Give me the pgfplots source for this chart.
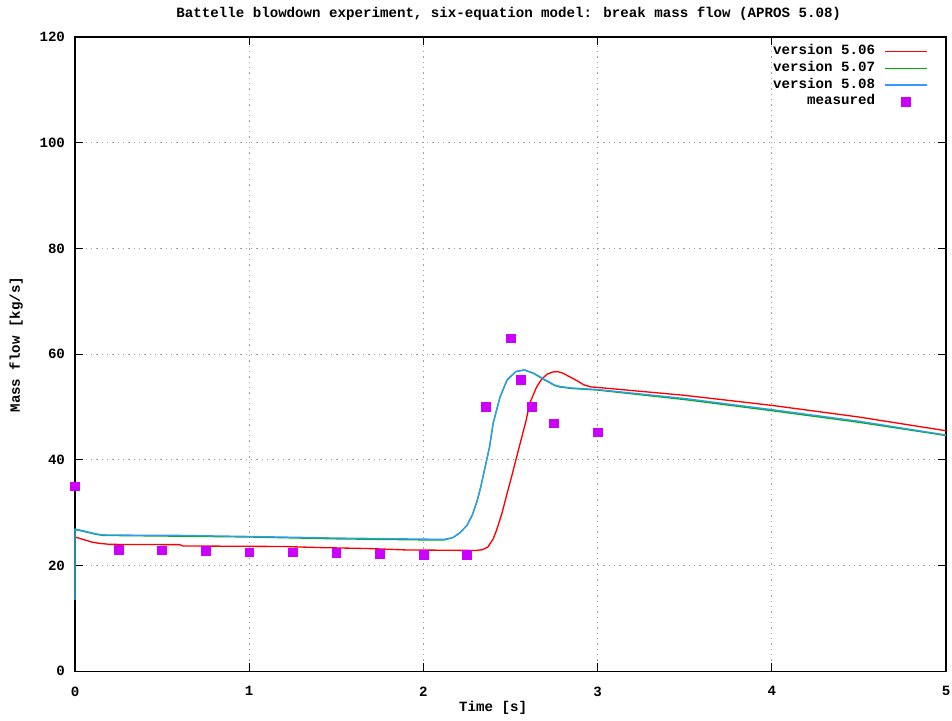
\documentclass[border=0pt]{standalone}
\usepackage{fontspec}
\setmainfont{Liberation Mono}
\usepackage{pgfplots}
\pgfplotsset{compat=1.18}
\definecolor{cRed}{HTML}{FF0000}
\definecolor{cGreen}{HTML}{00B000}
\definecolor{cBlue}{HTML}{3399FF}
\definecolor{cMeas}{HTML}{CC00FF}

\begin{document}
\begin{tikzpicture}
  \begin{axis}[
    width=653pt, height=475.5pt, scale only axis,
    xmin=0, xmax=5, ymin=0, ymax=120,
    xtick={0,1,2,3,4,5},
    ytick={0,20,40,60,80,100,120},
    font=\fontsize{10.6}{13}\selectfont\bfseries,
    /pgf/number format/assume math mode=true,
    grid=major,
    grid style={gray!75, line width=0.6pt, dash pattern=on 1pt off 3pt},
    axis line style={black, line width=1pt},
    tick style={black, line width=0.9pt},
    major tick length=6pt,
    xticklabel style={yshift=-8pt},
    yticklabel style={xshift=-4pt},
    title={Battelle blowdown experiment, six-equation model: break mass flow (APROS 5.08)},
    every axis title/.style={at={(axis description cs:0.498,1.0363)}, anchor=center},
    xlabel={Time [s]},
    xlabel style={at={(axis description cs:0.48,-0.0584)}, anchor=center},
    ylabel={Mass flow [kg/s]},
    ylabel style={at={(axis description cs:-0.0677,0.515)}, anchor=center},
    clip=false,
    legend plot pos=right,
    legend cell align=right,
    legend style={at={(axis description cs:0.9793,0.9880)}, anchor=north east,
      draw=none, fill=none, inner sep=0pt,
      nodes={inner sep=0pt, text height=7.5pt, text depth=2.5pt},
      row sep=2.5pt,
      /tikz/every odd column/.append style={column sep=7pt}},
    legend image code/.code={\draw[mark repeat=2,mark phase=2,#1]
      plot coordinates {(0pt,0pt) (15.75pt,0pt) (31.5pt,0pt)};},
  ]
  % version 5.06
  \addplot[cRed, line width=1pt] coordinates {
    (0,25.4) (0.05,24.9) (0.1,24.4) (0.14,24.2) (0.2,24.0) (0.6,23.95)
    (0.62,23.7) (1.2,23.6) (1.4,23.4) (1.7,23.2) (1.9,22.95) (2.3,22.85)
    (2.34,23.0) (2.37,23.5) (2.4,25.0) (2.42,26.7) (2.45,29.8) (2.48,33.6)
    (2.51,37.3) (2.53,39.9) (2.56,43.7) (2.59,47.5) (2.61,50.7) (2.65,53.8)
    (2.68,55.3) (2.71,56.2) (2.74,56.6) (2.77,56.7) (2.80,56.4) (2.84,55.7)
    (2.88,55.0) (2.92,54.2) (2.96,53.8) (3.0,53.7) (3.5,52.2)
    (4.0,50.3) (4.5,48.1) (5.0,45.5)
  };
  \addlegendentry{version 5.06}
  % version 5.07
  \addplot[cGreen, line width=1pt] coordinates {
    (0,13.5) (0,26.8) (0.03,26.6) (0.07,26.3) (0.12,25.9) (0.16,25.7)
    (0.3,25.65) (0.6,25.55) (1.0,25.4) (1.5,25.05) (2.0,24.85) (2.12,24.85)
    (2.17,25.3) (2.21,26.2) (2.25,27.6) (2.28,29.5) (2.31,32.4) (2.33,35.0)
    (2.35,38.0) (2.38,42.5) (2.40,46.9) (2.44,51.9) (2.48,55.1) (2.53,56.7)
    (2.58,57.0) (2.63,56.4) (2.66,55.8) (2.69,55.2) (2.72,54.7) (2.75,54.1)
    (2.78,53.8) (2.85,53.5) (2.9,53.4)
    (3.0,53.2) (3.5,51.4) (4.0,49.3) (4.5,47.1) (5.0,44.6)
  };
  \addlegendentry{version 5.07}
  % version 5.08
  \addplot[cBlue, line width=1pt] coordinates {
    (0,13.5) (0,26.9) (0.03,26.7) (0.07,26.4) (0.12,26.0) (0.16,25.8)
    (0.3,25.75) (0.6,25.7) (1.0,25.5) (1.5,25.2) (2.0,25.0) (2.12,24.95)
    (2.17,25.3) (2.21,26.2) (2.25,27.6) (2.28,29.5) (2.31,32.4) (2.33,35.0)
    (2.35,38.0) (2.38,42.5) (2.40,46.9) (2.44,51.9) (2.48,55.1) (2.53,56.7)
    (2.58,57.0) (2.63,56.4) (2.66,55.9) (2.69,55.3) (2.72,54.8) (2.75,54.2)
    (2.78,53.9) (2.85,53.6) (2.9,53.5)
    (3.0,53.3) (3.5,51.6) (4.0,49.5) (4.5,47.3) (5.0,44.7)
  };
  \addlegendentry{version 5.08}
  % measured
  \addplot[only marks, mark=square*, mark size=3.3pt, color=cMeas] coordinates {
    (0,35.0) (0.25,23.0) (0.5,22.9) (0.75,22.8) (1.0,22.5) (1.25,22.5)
    (1.5,22.4) (1.75,22.3) (2.0,22.1) (2.25,22.1) (2.36,50.0) (2.5,63.0)
    (2.56,55.1) (2.62,50.0) (2.75,46.9) (3.0,45.2)
  };
  \addlegendentry{measured}
  \end{axis}
  \pgfresetboundingbox
  \path ([shift={(-56.25pt,-36.75pt)}]current axis.south west)
    rectangle ([shift={(4.5pt,27.75pt)}]current axis.north east);
\end{tikzpicture}
\end{document}
